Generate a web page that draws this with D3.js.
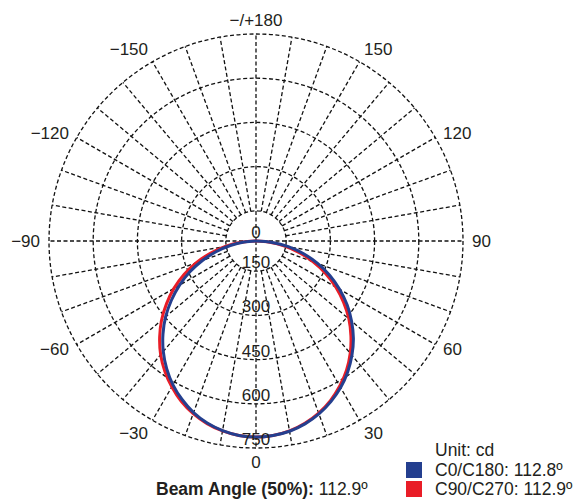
<!DOCTYPE html>
<html>
<head>
<meta charset="utf-8">
<script src="https://cdn.jsdelivr.net/npm/d3@7"></script>
<style>
  body { margin: 0; background: #fff; }
  svg { display: block; }
  text { font-family: "Liberation Sans", Arial, sans-serif; fill: #231f20; }
</style>
</head>
<body>
<svg id="chart"></svg>
<script>
// gamma angles (0 = straight down), intensities in cd
const angles = [-90, -85, -80, -75, -70, -65, -60, -55, -50, -45, -40, -35, -30, -25, -20, -15, -10, -5,
  0, 5, 10, 15, 20, 25, 30, 35, 40, 45, 50, 55, 60, 65, 70, 75, 80, 85, 90];
const c0c180 = [0, 88, 136, 188, 241, 295, 347, 398, 448, 494, 537, 576, 611, 641, 667, 687, 701, 710,
  713, 710, 703, 690, 672, 649, 622, 590, 554, 515, 471, 425, 375, 324, 270, 215, 159, 103, 0];
const c90c270 = [0, 99, 153, 208, 263, 317, 369, 418, 466, 510, 551, 587, 619, 648, 671, 689, 702, 710,
  713, 710, 702, 688, 669, 645, 616, 583, 545, 503, 459, 410, 360, 308, 254, 200, 146, 94, 0];

const ringValues = [150, 300, 450, 600, 750];
const ringLabelValues = [0, 150, 300, 450, 600, 750];
const ringLabels = ['0', '150', '300', '450', '600', '750'];
const angleTicks = [0, 30, 60, 90, 120, 150, 180, -150, -120, -90, -60, -30];
const angleTickLabels = ['0', '30', '60', '90', '120', '150', '\u2212/+180', '\u2212150', '\u2212120', '\u221290', '\u221260', '\u221230'];
const seriesNames = ['C0/C180: 112.8\u00ba', 'C90/C270: 112.9\u00ba'];
const unitLabel = 'Unit: cd';
const beamLabel = 'Beam Angle (50%):';
const beamValue = ' 112.9\u00ba';

const width = 575, height = 499;
const cx = 256, cy = 241;
const blue = '#243f8f', red = '#e91d27';

const svg = d3.select('#chart').attr('width', width).attr('height', height);

const r = d3.scaleLinear().domain([0, 750]).range([-14, 207]);
const rr = (v) => Math.max(0, r(v));
const rad = (deg) => (deg * Math.PI) / 180;
const pt = (deg, radius) => [cx + radius * Math.sin(rad(deg)), cy + radius * Math.cos(rad(deg))];

const grid = svg.append('g')
  .attr('fill', 'none')
  .attr('stroke', '#111')
  .attr('stroke-width', 1.3)
  .attr('stroke-dasharray', '4,2.5');

grid.selectAll('circle')
  .data(ringValues)
  .join('circle')
  .attr('cx', cx)
  .attr('cy', cy)
  .attr('r', (d) => r(d));

// spokes every 10 deg, the main axes run through the centre
grid.selectAll('line')
  .data(d3.range(0, 360, 10))
  .join('line')
  .attr('x1', (d) => pt(d, d % 90 === 0 ? 0 : r(150))[0])
  .attr('y1', (d) => pt(d, d % 90 === 0 ? 0 : r(150))[1])
  .attr('x2', (d) => pt(d, r(750))[0])
  .attr('y2', (d) => pt(d, r(750))[1]);

// curves
const line = d3.lineRadial()
  .angle((d) => Math.PI - rad(d[0]))
  .radius((d) => rr(d[1]))
  .curve(d3.curveCatmullRom);

const curves = svg.append('g').attr('transform', `translate(${cx},${cy})`).attr('fill', 'none');
curves.append('path')
  .attr('d', line(d3.zip(angles, c90c270)))
  .attr('stroke', red)
  .attr('stroke-width', 3);
curves.append('path')
  .attr('d', line(d3.zip(angles, c0c180)))
  .attr('stroke', blue)
  .attr('stroke-width', 3);

// ring labels
svg.append('g')
  .selectAll('text')
  .data(ringLabelValues)
  .join('text')
  .attr('x', cx)
  .attr('y', (d) => cy + rr(d) - 3)
  .attr('text-anchor', 'middle')
  .attr('font-size', 17)
  .text((d, i) => ringLabels[i]);

// angle labels
svg.append('g')
  .selectAll('text')
  .data(angleTicks)
  .join('text')
  .attr('x', (d) => pt(d, 216)[0])
  .attr('y', (d) => pt(d, 216)[1] + (Math.abs(d) <= 30 ? 5 : Math.abs(d) >= 150 ? -5 : 0))
  .attr('dy', '0.35em')
  .attr('text-anchor', (d) => (d === 0 || d === 180 ? 'middle' : d > 0 ? 'start' : 'end'))
  .attr('font-size', 17)
  .text((d, i) => angleTickLabels[i]);

// legend
const legend = svg.append('g');
legend.append('text')
  .attr('x', 435)
  .attr('y', 456)
  .attr('font-size', 17.5)
  .text(unitLabel);
legend.selectAll('rect')
  .data(seriesNames)
  .join('rect')
  .attr('x', 406)
  .attr('y', (d, i) => 462 + i * 19)
  .attr('width', 16)
  .attr('height', 16)
  .attr('fill', (d, i) => (i ? red : blue));
legend.selectAll('text.item')
  .data(seriesNames)
  .join('text')
  .attr('class', 'item')
  .attr('x', 435)
  .attr('y', (d, i) => 476 + i * 19)
  .attr('font-size', 17.5)
  .text((d) => d);

const beam = svg.append('text')
  .attr('x', 156)
  .attr('y', 495)
  .attr('font-size', 17.5);
beam.append('tspan').attr('font-weight', 'bold').text(beamLabel);
beam.append('tspan').text(beamValue);
</script>
</body>
</html>
